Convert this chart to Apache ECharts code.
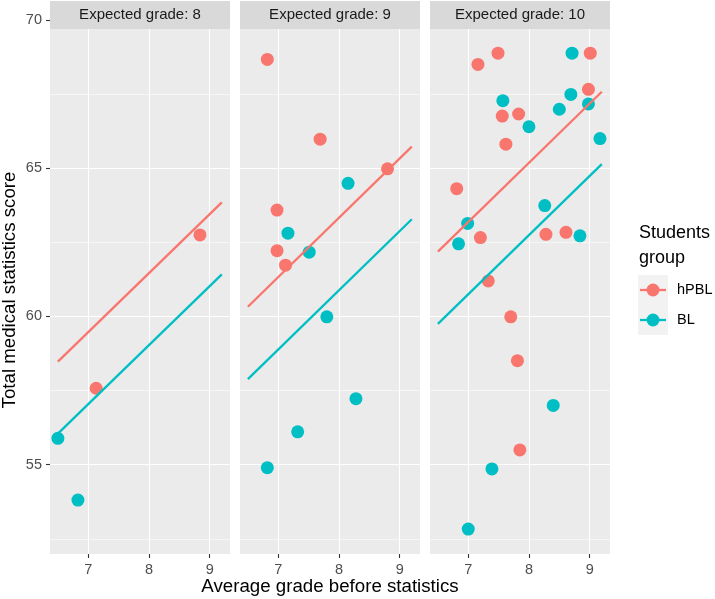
<!DOCTYPE html>
<html>
<head>
<meta charset="utf-8">
<script src="https://cdn.jsdelivr.net/npm/echarts@6/dist/echarts.min.js"></script>
<style>
  html, body { margin: 0; padding: 0; background: #fff; }
  #chart { width: 715px; height: 599px; }
</style>
</head>
<body>
<div id="chart"></div>
<script>
const panelTitles = ['Expected grade: 8', 'Expected grade: 9', 'Expected grade: 10']
const groups = ['hPBL', 'BL']
const xTicks = [7, 8, 9]
const yTicks = [55, 60, 65, 70]
const yMajorGrid = [55, 60, 65]
const yMinorGrid = [52.5, 57.5, 62.5, 67.5]

// points per panel, [average grade, total score]
const hpbl8 = [[7.13, 57.58], [8.84, 62.75]]
const bl8 = [[6.5, 55.89], [6.83, 53.81]]
const hpbl9 = [[6.82, 68.67], [7.69, 65.98], [8.80, 64.98], [6.98, 63.59], [6.98, 62.22], [7.12, 61.73]]
const bl9 = [[8.15, 64.49], [7.16, 62.81], [7.51, 62.17], [7.80, 59.99], [8.28, 57.23], [7.32, 56.11], [6.82, 54.90]]
const hpbl10 = [[7.16, 68.50], [7.49, 68.88], [9.01, 68.88], [8.98, 67.66], [7.56, 66.76], [7.83, 66.83],
  [7.62, 65.81], [6.81, 64.31], [7.20, 62.66], [8.28, 62.77], [8.61, 62.84], [7.33, 61.20],
  [7.70, 59.99], [7.81, 58.51], [7.85, 55.50]]
const bl10 = [[8.71, 68.88], [8.69, 67.49], [7.57, 67.28], [8.98, 67.17], [8.50, 66.99], [8.00, 66.40],
  [9.17, 66.00], [8.26, 63.74], [6.99, 63.14], [6.84, 62.45], [8.84, 62.72], [8.40, 57.00],
  [7.39, 54.86], [7.00, 52.83]]

// fitted lines (start and end of x range)
const fitX = [6.5, 9.2]
const hpblFit8 = [58.48, 63.85]
const blFit8 = [56.05, 61.42]
const hpblFit9 = [60.33, 65.73]
const blFit9 = [57.89, 63.28]
const hpblFit10 = [62.19, 67.58]
const blFit10 = [59.75, 65.14]

const hpblPoints = [hpbl8, hpbl9, hpbl10]
const blPoints = [bl8, bl9, bl10]
const hpblFits = [hpblFit8, hpblFit9, hpblFit10]
const blFits = [blFit8, blFit9, blFit10]

const colors = { hPBL: '#F8766D', BL: '#00BFC4' }
const font = '"Liberation Sans", Arial, sans-serif'

const chart = echarts.init(document.getElementById('chart'))

const grids = []
const xAxes = []
const yAxes = []
const series = []
const graphics = []

panelTitles.forEach((title, i) => {
  const left = 50 + i * 190
  grids.push({
    left: left, top: 1, width: 180, height: 553,
    show: true, backgroundColor: '#EBEBEB', borderWidth: 0
  })
  xAxes.push({
    gridIndex: i,
    type: 'value',
    min: 6.37,
    max: 9.335,
    splitLine: { show: false },
    axisLine: { show: false },
    axisTick: { show: true, length: 4, customValues: xTicks, lineStyle: { color: '#333333', width: 1.1 } },
    axisLabel: { customValues: xTicks, color: '#4D4D4D', fontSize: 14.5, margin: 8, fontFamily: font }
  })
  yAxes.push({
    gridIndex: i,
    type: 'value',
    min: 51.99,
    max: 70.64,
    splitLine: { show: false },
    axisLine: { show: false },
    axisTick: { show: i === 0, length: 4, customValues: yTicks, lineStyle: { color: '#333333', width: 1.1 } },
    axisLabel: { show: i === 0, customValues: yTicks, color: '#4D4D4D', fontSize: 14.5, margin: 8, fontFamily: font }
  })

  // panel grid lines
  const gridLines = []
  yMajorGrid.forEach(v => gridLines.push({ yAxis: v, lineStyle: { color: '#fff', width: 1.1, type: 'solid' } }))
  yMinorGrid.forEach(v => gridLines.push({ yAxis: v, lineStyle: { color: '#fff', width: 0.55, type: 'solid' } }))
  xTicks.forEach(v => gridLines.push({ xAxis: v, lineStyle: { color: '#fff', width: 1.1, type: 'solid' } }))
  series.push({
    type: 'scatter',
    xAxisIndex: i,
    yAxisIndex: i,
    data: [],
    z: 1,
    markLine: {
      silent: true,
      z: 1,
      animation: false,
      symbol: ['none', 'none'],
      label: { show: false },
      data: gridLines
    }
  })

  series.push({
    name: 'hPBL', type: 'scatter', xAxisIndex: i, yAxisIndex: i,
    data: hpblPoints[i], symbolSize: 13, z: 3,
    itemStyle: { color: colors.hPBL, opacity: 1 }
  })
  series.push({
    name: 'BL', type: 'scatter', xAxisIndex: i, yAxisIndex: i,
    data: blPoints[i], symbolSize: 13, z: 3,
    itemStyle: { color: colors.BL, opacity: 1 }
  })
  series.push({
    name: 'hPBL', type: 'line', xAxisIndex: i, yAxisIndex: i,
    data: fitX.map((x, k) => [x, hpblFits[i][k]]),
    symbol: 'none', z: 4,
    lineStyle: { color: colors.hPBL, width: 2.3 }
  })
  series.push({
    name: 'BL', type: 'line', xAxisIndex: i, yAxisIndex: i,
    data: fitX.map((x, k) => [x, blFits[i][k]]),
    symbol: 'none', z: 4,
    lineStyle: { color: colors.BL, width: 2.3 }
  })

  // facet strip
  graphics.push({
    type: 'rect', z: 100,
    shape: { x: left, y: 1, width: 180, height: 28 },
    style: { fill: '#D9D9D9' }
  })
  graphics.push({
    type: 'text', z: 101,
    x: left + 90, y: 15,
    style: { text: title, fill: '#1A1A1A', font: '15px ' + font, align: 'center', verticalAlign: 'middle' }
  })
})

// axis titles
graphics.push({
  type: 'text', z: 101, x: 330, y: 587,
  style: { text: 'Average grade before statistics', fill: '#000', font: '18.7px ' + font, align: 'center', verticalAlign: 'middle' }
})
graphics.push({
  type: 'text', z: 101, x: 10, y: 290, rotation: Math.PI / 2,
  style: { text: 'Total medical statistics score', fill: '#000', font: '18.7px ' + font, align: 'center', verticalAlign: 'middle' }
})

// legend
graphics.push({
  type: 'text', z: 101, x: 639, y: 233,
  style: { text: 'Students', fill: '#000', font: '18px ' + font, align: 'left', verticalAlign: 'middle' }
})
graphics.push({
  type: 'text', z: 101, x: 639, y: 258,
  style: { text: 'group', fill: '#000', font: '18px ' + font, align: 'left', verticalAlign: 'middle' }
})
graphics.push({
  type: 'rect', z: 100,
  shape: { x: 638, y: 275, width: 30, height: 60 },
  style: { fill: '#F2F2F2' }
})
groups.forEach((g, k) => {
  const cy = 290 + k * 30
  graphics.push({
    type: 'line', z: 101,
    shape: { x1: 640, y1: cy, x2: 666, y2: cy },
    style: { stroke: colors[g], lineWidth: 2.3 }
  })
  graphics.push({
    type: 'circle', z: 102,
    shape: { cx: 653, cy: cy, r: 6.5 },
    style: { fill: colors[g] }
  })
  graphics.push({
    type: 'text', z: 101, x: 677, y: cy,
    style: { text: g, fill: '#000', font: '14.5px ' + font, align: 'left', verticalAlign: 'middle' }
  })
})

chart.setOption({
  animation: false,
  grid: grids,
  xAxis: xAxes,
  yAxis: yAxes,
  series: series,
  graphic: graphics
})
</script>
</body>
</html>
